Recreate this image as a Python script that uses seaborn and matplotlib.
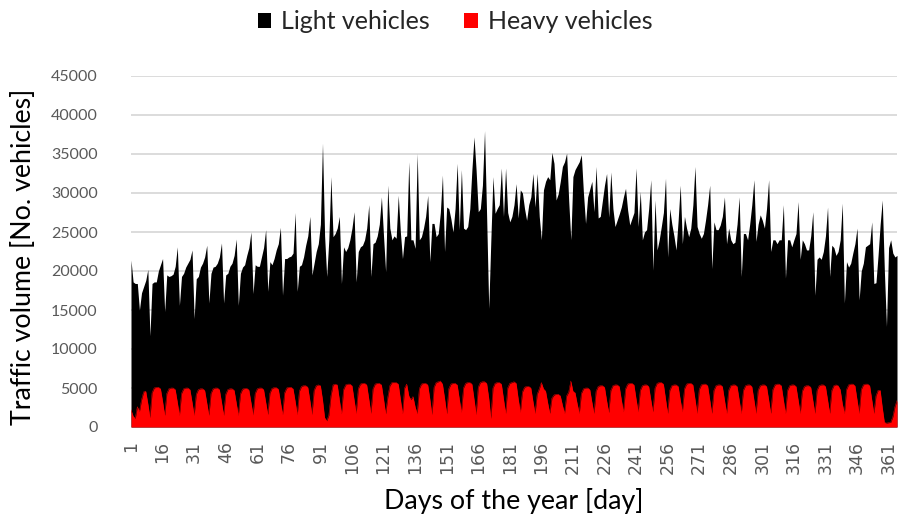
import numpy as np
import pandas as pd
import matplotlib
matplotlib.use("Agg")
import matplotlib.pyplot as plt
from matplotlib.patches import Patch
import seaborn as sns

# ---- data (daily traffic volumes, days 1..365) ----
light_q1 = [
    21400, 18600, 18400, 18400, 15000, 17200, 18000, 18800, 20200, 11700,
    18400, 18600, 18600, 20000, 20800, 21600, 14800,
    19500, 19300, 19400, 19600, 20600, 23100, 15600,
    19300, 19700, 20500, 21000, 21500, 22700, 13900,
    19000, 19300, 20500, 21000, 21800, 23300, 15900,
    19700, 20500, 20600, 21000, 21800, 23600, 15900,
    19500, 19700, 20600, 21000, 22000, 24100, 15600,
    19700, 20500, 20800, 22000, 23000, 25000, 17100,
    20800, 20600, 20600, 21800, 23000, 25300, 17400,
    21200, 20800, 21600, 22700, 23500, 25600, 16900,
    21600, 21600, 21800, 21900, 22300, 27500, 17400,
    20600, 20800, 21800, 23300, 24500, 27000, 19500,
    21000,
]
light_q2 = [
    22500, 23500, 26000, 36400, 24500, 19300,
    24000, 32100, 24400, 24800, 25500, 27000, 18400,
    23100, 22500, 23000, 24000, 25500, 27600, 18600,
    22500, 23100, 23300, 24000, 25500, 28500, 19300,
    23500, 23700, 24500, 26000, 29500, 24500, 19900,
    31000, 25500, 24000, 24500, 24200, 29700, 25000, 21600,
    24400, 24500, 34000, 24000, 24000, 22900, 35100,
    24000, 24400, 25500, 27000, 29700, 21200,
    26100, 26100, 24400, 24800, 27500, 32300, 22500,
    28200, 28000, 26700, 25000, 28000, 33800, 25300,
    33000, 25500, 25300, 25700, 28000, 33000, 37200,
    32900, 27600, 28000, 31000, 38000, 27000, 15200,
    24000, 32100, 27400, 28000, 28500, 33200, 27000,
    33200, 27500,
]
light_q3 = [
    26300, 27000, 28500, 31200, 26800, 30400, 30000, 28000, 26500,
    28500, 29500, 32500, 28200, 32500, 27000, 24000,
    30400, 31500, 32100, 31700, 35200, 33800, 29100,
    29900, 31500, 33400, 34000, 35100, 29000, 24000,
    32100, 33000, 33500, 34000, 34900, 30000, 26100,
    29500, 30500, 31500, 27600, 33400, 26800, 27000,
    29000, 31000, 32500, 26900, 32700, 28000, 25700,
    26500, 27300, 28200, 29500, 30600, 27800, 25900,
    26700, 27500, 33200, 25700, 30200, 24000,
    25000, 25300, 28000, 31700, 20100,
    29100, 22700, 24000, 25700, 27500, 31900, 21800,
    28000, 26000, 24500, 22700, 26500, 31000, 23500,
    27000, 25500, 24400,
]
light_q4 = [
    25500, 28500, 33400, 25700,
    24800, 24200, 24800, 26500, 28500, 31000, 20300,
    26300, 25300, 25300, 25900, 27000, 29500, 23500,
    25500, 24000, 23500, 23700, 26000, 29500, 19300,
    24800, 24800, 24000, 26000, 28500, 31700, 23800,
    26000, 27200, 26500, 25500, 28000, 31700, 22500,
    24000, 24000, 23500, 24000, 24000, 28500, 19100,
    24000, 24000, 23100, 24000, 24800, 28900, 21500,
    24000, 23500, 22700, 22700, 24500, 27600, 16900,
    21500, 21800, 21500, 22500, 24500, 28200, 19300,
    23300, 23000, 22000, 22500, 24000, 28700, 15900,
    21200, 20500, 21000, 22300, 23500, 25500, 16300,
    20000, 21000, 23100, 23300, 23500, 26300, 18400,
    18500, 22000, 26000, 29100, 20000, 12900,
    23000, 24000, 22300, 21800, 22000,
]

heavy_q1 = [
    2200, 1400, 1100, 2600, 2000, 3500, 4500, 4600, 3000, 1200,
    4400, 5000, 5100, 5100, 4900, 3300, 1500,
    4300, 4900, 5000, 5000, 4800, 3200, 1500,
    4300, 4900, 5000, 5000, 4800, 3200, 1500,
    4200, 4800, 4900, 4900, 4700, 3100, 1500,
    4300, 4900, 5000, 5000, 4800, 3200, 1500,
    4200, 4800, 4900, 4900, 4700, 3100, 1500,
    4250, 4850, 4950, 4950, 4750, 3150, 1550,
    4300, 4900, 5000, 5000, 4800, 3200, 1600,
    4350, 4950, 5050, 5050, 4850, 3250, 1600,
    4400, 5000, 5100, 5100, 4900, 3300, 1600,
    4600, 5200, 5300, 5300, 5100, 3400, 1600,
    4700,
]
heavy_q2 = [
    5300, 5400, 5300, 3500, 1200, 800,
    1500, 4000, 5400, 5500, 5400, 3500, 1700,
    4800, 5400, 5500, 5500, 5300, 3500, 1750,
    4900, 5500, 5600, 5600, 5400, 3600, 1750,
    4900, 5500, 5600, 5600, 5400, 3600, 1700,
    3800, 5300, 5700, 5700, 5700, 5500, 3600, 1700,
    5000, 5500, 4000, 3500, 3900, 2600, 1700,
    4900, 5500, 5600, 5600, 5400, 3600, 1600,
    5100, 5700, 5800, 5900, 5500, 3700, 1700,
    4900, 5500, 5600, 5600, 5400, 3600, 1900,
    5000, 5600, 5700, 5700, 5500, 3600, 1600,
    5100, 5700, 5800, 5800, 5600, 3700, 1100,
    5000, 5600, 5700, 5700, 5500, 3600, 1750,
    5000, 5600,
]
heavy_q3 = [
    5700, 5800, 5600, 3600, 1900,
    4500, 5100, 5200, 5200, 5000, 3300, 1750,
    4200, 4900, 5700, 4900, 4600, 3100, 1750,
    3700, 4100, 4200, 4200, 4000, 2800, 1750,
    4000, 4500, 5900, 4600, 4400, 3000, 1750,
    4300, 4900, 5000, 5000, 4800, 3200, 1750,
    4600, 5200, 5300, 5300, 5100, 3400, 1850,
    4700, 5300, 5400, 5400, 5200, 3500, 1950,
    4900, 5500, 5600, 5600, 5400, 3600, 1950,
    4700, 5300, 5400, 5400, 5200, 3500, 1950,
    5000, 5600, 5700, 5700, 5500, 3600, 1750,
    4700, 5300, 5400, 5400, 5200, 3500, 1950,
    4900, 5500, 5600,
]
heavy_q4 = [
    5600, 5400, 3600, 1750,
    4800, 5400, 5500, 5500, 5300, 3500, 1750,
    4700, 5300, 5400, 5400, 5200, 3500, 1750,
    4700, 5300, 5400, 5400, 5200, 3500, 1750,
    4700, 5300, 5400, 5400, 5200, 3500, 1750,
    4700, 5300, 5400, 5400, 5200, 3500, 1750,
    4800, 5400, 5500, 5500, 5300, 3500, 1750,
    4700, 5300, 5400, 5400, 5200, 3500, 1750,
    4600, 5200, 5300, 5300, 5100, 3400, 1750,
    4700, 5300, 5400, 5400, 5200, 3500, 1750,
    4700, 5300, 5400, 5300, 4800, 3000, 1750,
    4800, 5400, 5500, 5500, 5300, 3500, 1750,
    4800, 5400, 5500, 5500, 5300, 3500, 1750,
    4000, 4700, 4700, 2500, 600, 500, 550, 600, 1300, 2600, 3400,
]

x_ticks = list(range(1, 366, 15))
y_ticks = list(range(0, 45001, 5000))
series_names = ["Light vehicles", "Heavy vehicles"]
series_colors = ["#000000", "#ff0000"]

light = light_q1 + light_q2 + light_q3 + light_q4
heavy = heavy_q1 + heavy_q2 + heavy_q3 + heavy_q4
n = min(len(light), len(heavy))
df = pd.DataFrame({"day": np.arange(1, n + 1),
                   "light": light[:n], "heavy": heavy[:n]})

sns.set_theme(style="white")
plt.rcParams["font.family"] = ["Lato", "DejaVu Sans"]

fig = plt.figure(figsize=(8.99, 5.21), dpi=100)
ax = fig.add_axes([131 / 899, 94 / 521, (897 - 131) / 899, (427 - 76) / 521])

for yv in y_ticks[1:]:
    ax.axhline(yv, color="#d9d9d9", lw=1.3, zorder=0)

ax.fill_between(df["day"], 0, df["light"], color=series_colors[0], lw=0, zorder=2)
ax.fill_between(df["day"], 0, df["heavy"], color=series_colors[1], lw=0, zorder=3)
sns.lineplot(data=df, x="day", y="heavy", ax=ax, color=series_colors[1], lw=0.3, zorder=3)

ax.set_xlim(1, 365)
ax.set_ylim(0, 45000)
ax.set_xticks(x_ticks)
ax.set_xticklabels([str(t) for t in x_ticks], rotation=90, fontsize=12.5,
                   color="#595959", family=["DejaVu Sans"])
ax.set_yticks(y_ticks)
ax.set_yticklabels([str(t) for t in y_ticks], fontsize=11.5, color="#595959")
ax.tick_params(axis="both", length=0)
ax.tick_params(axis="x", pad=10)
ax.tick_params(axis="y", pad=24)
for s in ax.spines.values():
    s.set_visible(False)
ax.grid(False)

ax.set_xlabel("Days of the year [day]", fontsize=19.3, color="#000000", labelpad=10)
ax.set_ylabel("Traffic volume [No. vehicles]", fontsize=19.3, color="#000000")
ax.yaxis.set_label_coords(-0.124, 0.486)

handles = [Patch(facecolor=c, edgecolor="none", label=l) for c, l in zip(series_colors, series_names)]
fig.legend(handles=handles, loc="upper center", bbox_to_anchor=(0.506, 1.0), ncol=2,
           frameon=False, fontsize=18, handlelength=0.55, handleheight=0.55,
           handletextpad=0.4, columnspacing=1.35, borderaxespad=0.0)

fig.savefig("out.png", dpi=100)
